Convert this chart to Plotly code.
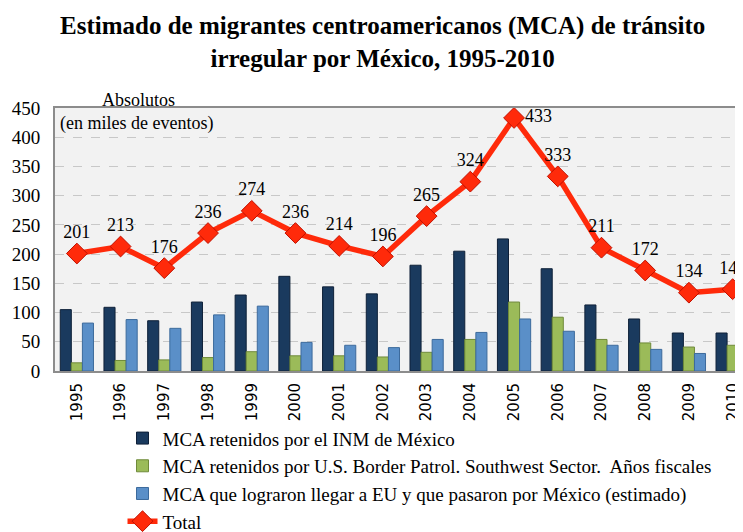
import plotly.graph_objects as go

years = ["1995", "1996", "1997", "1998", "1999", "2000", "2001", "2002",
         "2003", "2004", "2005", "2006", "2007", "2008", "2009", "2010"]
inm = [105, 109, 86, 118, 130, 162, 144, 132, 181, 205, 226, 175, 113, 89, 65, 65]
border = [14, 18, 19, 23, 33, 26, 26, 24, 32, 54, 118, 92, 54, 48, 41, 44]
llegaron = [82, 88, 73, 96, 111, 49, 44, 40, 54, 66, 89, 68, 44, 37, 30, 34]
total = [201, 213, 176, 236, 274, 236, 214, 196, 265, 324, 433, 333, 211, 172, 134, 140]
text_pos = ["top center"] * 10 + ["middle right"] + ["top center"] * 5

serif = "Liberation Serif"

fig = go.Figure()
fig.add_trace(go.Bar(x=years, y=inm, name="MCA retenidos por el INM de México",
                     marker=dict(color="#1a3a5e", line=dict(color="#0e2038", width=1))))
fig.add_trace(go.Bar(x=years, y=border,
                     name="MCA retenidos por U.S. Border Patrol. Southwest Sector.  Años fiscales",
                     marker=dict(color="#9bbb59", line=dict(color="#6f8a3a", width=1))))
fig.add_trace(go.Bar(x=years, y=llegaron,
                     name="MCA que lograron llegar a EU y que pasaron por México (estimado)",
                     marker=dict(color="#5a8fc8", line=dict(color="#3c6a9c", width=1))))
fig.add_trace(go.Scatter(x=years, y=total, name="Total", mode="lines+markers+text",
                         text=[str(v) for v in total], textposition=text_pos,
                         textfont=dict(family=serif, size=18, color="black"),
                         line=dict(color="#ff2a0a", width=5.5),
                         marker=dict(symbol="diamond", size=16, color="#ff2a0a",
                                     line=dict(color="#c01000", width=1)),
                         cliponaxis=False))

fig.update_layout(
    width=743, height=532,
    margin=dict(l=47, r=0, t=100, b=169),
    paper_bgcolor="white", plot_bgcolor="#f2f2f2",
    barmode="group", bargap=0.24, bargroupgap=0,
    font=dict(family=serif, color="black"),
    showlegend=True,
    legend=dict(orientation="v", x=0.097, xanchor="left", xref="paper",
                y=0.227, yanchor="top", yref="container",
                font=dict(family=serif, size=19, color="black"),
                bgcolor="rgba(0,0,0,0)", tracegroupgap=0, itemwidth=30),
    xaxis=dict(type="category", range=[-0.5, 15.42], tickangle=-90, automargin=False,
               tickfont=dict(family="DejaVu Sans", size=15, color="black"),
               ticklabelstandoff=4,
               showline=True, linecolor="#8c8c8c", linewidth=2, mirror=True,
               showgrid=False, ticks=""),
    yaxis=dict(range=[0, 450], dtick=50, automargin=False,
               tickfont=dict(family=serif, size=19, color="black"),
               ticklabelstandoff=9,
               showline=True, linecolor="#8c8c8c", linewidth=2, mirror=True,
               gridcolor="#c8c8c8", griddash="dash", gridwidth=1, ticks="",
               zeroline=False),
    annotations=[
        dict(text="<b>Estimado de migrantes centroamericanos (MCA) de tránsito<br>irregular por México, 1995-2010</b>",
             xref="paper", yref="paper", x=0.471, y=1.373, xanchor="center", yanchor="top",
             showarrow=False, font=dict(family=serif, size=25, color="black")),
        dict(text="Absolutos", xref="paper", yref="paper", x=0.065, y=0.985,
             xanchor="left", yanchor="bottom", showarrow=False,
             font=dict(family=serif, size=18, color="black")),
        dict(text="(en miles de eventos)", xref="paper", yref="paper", x=0.005, y=0.99,
             xanchor="left", yanchor="top", showarrow=False,
             font=dict(family=serif, size=18, color="black")),
    ],
)

fig.write_html("out.html")
